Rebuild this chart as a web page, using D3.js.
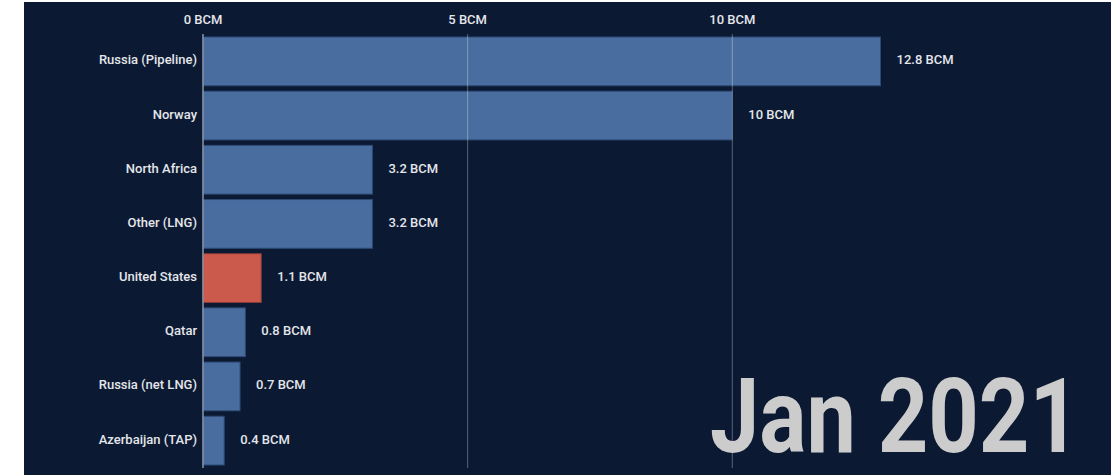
<!DOCTYPE html>
<html>
<head>
<meta charset="utf-8">
<script src="https://cdn.jsdelivr.net/npm/d3@7"></script>
<style>
  html, body { margin: 0; padding: 0; background: #fff; }
  svg { display: block; font-family: Roboto, "Liberation Sans", sans-serif; }
</style>
</head>
<body>
<svg id="chart" width="1115" height="475"></svg>
<script>
// gas supply bar chart — one frame (Jan 2021)
const categories = ["Russia (Pipeline)", "Norway", "North Africa", "Other (LNG)",
  "United States", "Qatar", "Russia (net LNG)", "Azerbaijan (TAP)"];
const values = [12.8, 10, 3.2, 3.2, 1.1, 0.8, 0.7, 0.4];
const highlight = "United States";
const tickValues = [0, 5, 10];
const frameLabel = "Jan 2021";

const BG = "#0b1933";
const BAR = "#4a6da0";
const BAR_HI = "#cc5a4c";
const TEXT = "#e4e6ea";

const svg = d3.select("#chart");
svg.append("rect")
  .attr("x", 24).attr("y", 2).attr("width", 1087).attr("height", 473)
  .attr("fill", BG);

const x = d3.scaleLinear().domain([0, 10]).range([203, 732.3]);
const y = d3.scaleBand().domain(categories).range([37, 465]).paddingInner(0.1).paddingOuter(0);

const data = categories.map((c, i) => ({ name: c, value: values[i] }));

// bars
svg.append("g").selectAll("rect")
  .data(data).enter().append("rect")
  .attr("x", x(0))
  .attr("y", d => y(d.name))
  .attr("width", d => x(d.value) - x(0))
  .attr("height", y.bandwidth())
  .attr("fill", d => d.name === highlight ? BAR_HI : BAR)
  .attr("stroke", d => d.name === highlight ? "#8a3a33" : "#2c4a74")
  .attr("stroke-width", 1);

// grid lines on top of bars
const grid = svg.append("g");
grid.selectAll("line")
  .data(tickValues).enter().append("line")
  .attr("x1", d => x(d)).attr("x2", d => x(d))
  .attr("y1", 34).attr("y2", 468)
  .attr("stroke", d => d === 0 ? "#8d96a8" : "#ffffff")
  .attr("stroke-opacity", d => d === 0 ? 1 : 0.32)
  .attr("stroke-width", d => d === 0 ? 1.5 : 1);

// top axis labels
svg.append("g").selectAll("text")
  .data(tickValues).enter().append("text")
  .attr("x", d => x(d))
  .attr("y", 19.5)
  .attr("dy", "0.33em")
  .attr("text-anchor", "middle")
  .attr("fill", TEXT)
  .attr("font-size", 13)
  .attr("font-weight", 500)
  .text(d => `${d} BCM`);

// category labels
svg.append("g").selectAll("text")
  .data(data).enter().append("text")
  .attr("x", x(0) - 6)
  .attr("y", d => y(d.name) + y.bandwidth() / 2)
  .attr("dy", "0.23em")
  .attr("text-anchor", "end")
  .attr("fill", TEXT)
  .attr("font-size", 13)
  .attr("font-weight", 500)
  .text(d => d.name);

// value labels
svg.append("g").selectAll("text")
  .data(data).enter().append("text")
  .attr("x", d => x(d.value) + 16)
  .attr("y", d => y(d.name) + y.bandwidth() / 2)
  .attr("dy", "0.23em")
  .attr("fill", TEXT)
  .attr("font-size", 13)
  .attr("font-weight", 500)
  .text(d => `${d.value} BCM`);

// big date label
svg.append("text")
  .attr("x", 1080)
  .attr("y", 452)
  .attr("text-anchor", "end")
  .attr("fill", "#cccccc")
  .attr("font-size", 104)
  .attr("font-weight", 700)
  .attr("textLength", 370)
  .attr("lengthAdjust", "spacingAndGlyphs")
  .text(frameLabel);
</script>
</body>
</html>
